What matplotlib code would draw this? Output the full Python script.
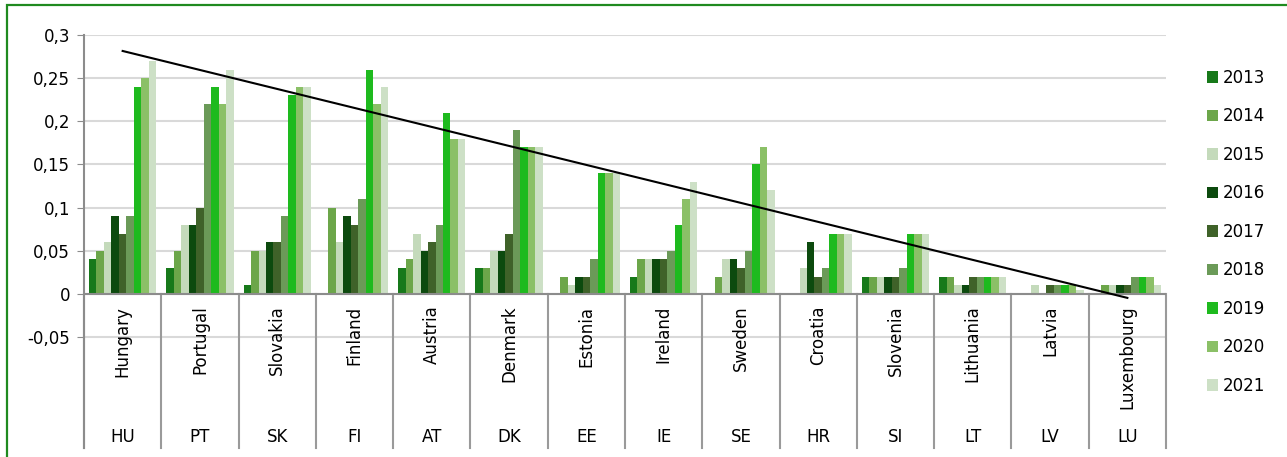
import matplotlib
matplotlib.use("Agg")
import matplotlib.pyplot as plt
from matplotlib.patches import Rectangle
import numpy as np

# datos
countries = ["Hungary", "Portugal", "Slovakia", "Finland", "Austria", "Denmark", "Estonia",
             "Ireland", "Sweden", "Croatia", "Slovenia", "Lithuania", "Latvia", "Luxembourg"]
codes = ["HU", "PT", "SK", "FI", "AT", "DK", "EE", "IE", "SE", "HR", "SI", "LT", "LV", "LU"]
years = ["2013", "2014", "2015", "2016", "2017", "2018", "2019", "2020", "2021"]

v2013 = [0.04, 0.03, 0.01, 0.00, 0.03, 0.03, 0.00, 0.02, 0.00, 0.00, 0.02, 0.02, 0.00, 0.00]
v2014 = [0.05, 0.05, 0.05, 0.10, 0.04, 0.03, 0.02, 0.04, 0.02, 0.00, 0.02, 0.02, 0.00, 0.01]
v2015 = [0.06, 0.08, 0.05, 0.06, 0.07, 0.05, 0.01, 0.04, 0.04, 0.03, 0.02, 0.01, 0.01, 0.01]
v2016 = [0.09, 0.08, 0.06, 0.09, 0.05, 0.05, 0.02, 0.04, 0.04, 0.06, 0.02, 0.01, 0.00, 0.01]
v2017 = [0.07, 0.10, 0.06, 0.08, 0.06, 0.07, 0.02, 0.04, 0.03, 0.02, 0.02, 0.02, 0.01, 0.01]
v2018 = [0.09, 0.22, 0.09, 0.11, 0.08, 0.19, 0.04, 0.05, 0.05, 0.03, 0.03, 0.02, 0.01, 0.02]
v2019 = [0.24, 0.24, 0.23, 0.26, 0.21, 0.17, 0.14, 0.08, 0.15, 0.07, 0.07, 0.02, 0.01, 0.02]
v2020 = [0.25, 0.22, 0.24, 0.22, 0.18, 0.17, 0.14, 0.11, 0.17, 0.07, 0.07, 0.02, 0.01, 0.02]
v2021 = [0.27, 0.26, 0.24, 0.24, 0.18, 0.17, 0.14, 0.13, 0.12, 0.07, 0.07, 0.02, 0.005, 0.01]
series = [v2013, v2014, v2015, v2016, v2017, v2018, v2019, v2020, v2021]

colores = ["#17791a", "#6ca64a", "#c4dabb", "#0c4a0e", "#3f6229", "#6b9a58",
           "#1eba1e", "#8bc067", "#cde0c6"]

# linea de tendencia (extremos)
trend_x = [0, 13]
trend_y = [0.2815, -0.0045]

yticks = [-0.05, 0, 0.05, 0.1, 0.15, 0.2, 0.25, 0.3]
ylabels = ["-0,05", "0", "0,05", "0,1", "0,15", "0,2", "0,25", "0,3"]

plt.rcParams["font.family"] = "DejaVu Sans"

fig = plt.figure(figsize=(12.87, 4.57), dpi=100)
ax = fig.add_axes([84/1287, 1 - 448/457, (1166 - 84)/1287, (448 - 35)/457])

n = len(countries)
nb = len(series)
x = np.arange(n)
ancho = 0.87 / nb
for i in range(nb):
    ax.bar(x - 0.435 + ancho*(i + 0.5), series[i], width=ancho, color=colores[i],
           label=years[i], zorder=3, linewidth=0)

ax.plot(trend_x, trend_y, color="black", lw=1.5, zorder=5)

ymin = -0.1784
ax.set_xlim(-0.5, n - 0.5)
ax.set_ylim(ymin, 0.3)

for t in yticks:
    ax.axhline(t, color="#d9d9d9", lw=1.5, zorder=1)
ax.axhline(0, color="#8c8c8c", lw=1.5, zorder=4)

# separadores y etiquetas de categorias
for k in range(n + 1):
    ax.plot([k - 0.5, k - 0.5], [0, ymin], color="#9a9a9a", lw=1.5, zorder=2, clip_on=False)
for k in range(n):
    ax.text(k, -0.0135, countries[k], rotation=90, ha="center", va="top", fontsize=12)
    ax.text(k, -0.1655, codes[k], ha="center", va="center", fontsize=12)

ax.set_yticks(yticks)
ax.set_yticklabels(ylabels, fontsize=12)
ax.tick_params(axis="y", length=5, color="#8c8c8c", pad=5)
ax.set_xticks([])
for s in ["top", "right", "bottom"]:
    ax.spines[s].set_visible(False)
ax.spines["left"].set_color("#8c8c8c")
ax.spines["left"].set_linewidth(1.5)

fig.legend(loc="upper left", bbox_to_anchor=(1200/1287, 1 - 62/457), frameon=False,
           fontsize=12, handlelength=0.7, handleheight=0.7, handletextpad=0.25,
           labelspacing=1.23, borderaxespad=0)

# marco verde
fig.patches.append(Rectangle((7/1287, -0.1), 1.2, 1 - 5/457 + 0.1, transform=fig.transFigure,
                             fill=False, edgecolor="#1f8a1f", lw=1.6))

fig.savefig("out.png", dpi=100)
